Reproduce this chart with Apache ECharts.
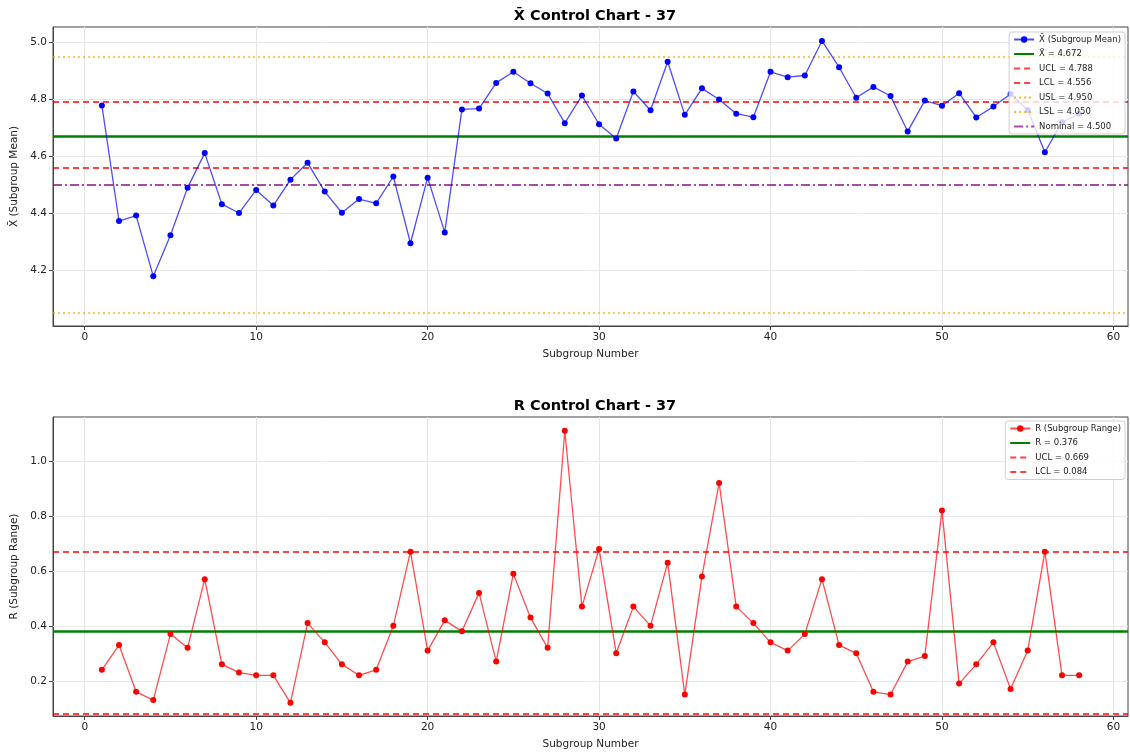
<!DOCTYPE html>
<html>
<head>
<meta charset="utf-8">
<script src="https://cdn.jsdelivr.net/npm/echarts@6/dist/echarts.min.js"></script>
<style>
  html, body { margin: 0; padding: 0; background: #fff; }
  #chart { width: 1130px; height: 753px; }
</style>
</head>
<body>
<div id="chart"></div>
<script>
// subgroup numbers (x axis)
var subgroups = [1, 2, 3, 4, 5, 6, 7, 8, 9, 10, 11, 12, 13, 14, 15, 16, 17, 18, 19, 20,
  21, 22, 23, 24, 25, 26, 27, 28, 29, 30, 31, 32, 33, 34, 35, 36, 37, 38, 39, 40,
  41, 42, 43, 44, 45, 46, 47, 48, 49, 50, 51, 52, 53, 54, 55, 56, 57, 58]

// subgroup means
var xbarValues = [4.778, 4.373, 4.392, 4.179, 4.323, 4.490, 4.611, 4.432, 4.401, 4.482,
  4.427, 4.518, 4.577, 4.476, 4.402, 4.450, 4.435, 4.529, 4.295, 4.525,
  4.333, 4.764, 4.767, 4.857, 4.896, 4.856, 4.820, 4.716, 4.813, 4.712,
  4.662, 4.827, 4.761, 4.931, 4.745, 4.838, 4.799, 4.749, 4.737, 4.896,
  4.877, 4.883, 5.004, 4.912, 4.805, 4.843, 4.811, 4.687, 4.795, 4.777,
  4.821, 4.736, 4.774, 4.818, 4.762, 4.614, 4.719, 4.749]

// subgroup ranges
var rangeValues = [0.24, 0.33, 0.16, 0.13, 0.37, 0.32, 0.57, 0.26, 0.23, 0.22,
  0.22, 0.12, 0.41, 0.34, 0.26, 0.22, 0.24, 0.40, 0.67, 0.31,
  0.42, 0.38, 0.52, 0.27, 0.59, 0.43, 0.32, 1.11, 0.47, 0.68,
  0.30, 0.47, 0.40, 0.63, 0.15, 0.58, 0.92, 0.47, 0.41, 0.34,
  0.31, 0.37, 0.57, 0.33, 0.30, 0.16, 0.15, 0.27, 0.29, 0.82,
  0.19, 0.26, 0.34, 0.17, 0.31, 0.67, 0.22, 0.22]

// control / spec limits
var xbarLimits = { center: 4.672, ucl: 4.788, lcl: 4.556, usl: 4.950, lsl: 4.050, nominal: 4.500 }
var rLimits = { center: 0.376, ucl: 0.669, lcl: 0.084 }

// tick labels
var xTicks = [0, 10, 20, 30, 40, 50, 60]
var xbarTicks = [4.2, 4.4, 4.6, 4.8, 5.0]
var rTicks = [0.2, 0.4, 0.6, 0.8, 1.0]

var FONT = 'DejaVu Sans'
var XBAR = 'X\u0304'

function pairs(ys) {
  return subgroups.map(function (x, i) { return [x, ys[i]] })
}

// horizontal reference line drawn as a markLine-only series so it shows in the legend
function hLine(name, value, color, type, width, opacity, gridIdx) {
  var ls = { color: color, type: type, width: width, opacity: opacity }
  return {
    name: name,
    type: 'line',
    xAxisIndex: gridIdx,
    yAxisIndex: gridIdx,
    data: [],
    symbol: 'none',
    itemStyle: { color: color, opacity: 0 },
    lineStyle: ls,
    markLine: {
      silent: true,
      symbol: 'none',
      label: { show: false },
      lineStyle: ls,
      data: [{ yAxis: value }]
    },
    z: 3
  }
}

function xAxisDef(idx) {
  return {
    type: 'value',
    gridIndex: idx,
    min: -1.85,
    max: 60.85,
    interval: 10,
    name: 'Subgroup Number',
    nameLocation: 'middle',
    nameGap: 23,
    nameTextStyle: { fontFamily: FONT, fontSize: 10.5, color: '#222' },
    axisLine: { show: true, onZero: false, lineStyle: { color: '#444', width: 1 } },
    axisTick: { show: true, customValues: xTicks, length: 4, lineStyle: { color: '#444' } },
    axisLabel: { customValues: xTicks, fontFamily: FONT, fontSize: 10.5, color: '#222', margin: 6 },
    splitLine: { show: true, lineStyle: { color: '#e4e4e4', width: 1 } }
  }
}

function yAxisDef(idx, min, max, ticks, name) {
  return {
    type: 'value',
    gridIndex: idx,
    min: min,
    max: max,
    interval: 0.2,
    name: name,
    nameLocation: 'middle',
    nameGap: 32,
    nameRotate: 90,
    nameTextStyle: { fontFamily: FONT, fontSize: 10.5, color: '#222' },
    axisLine: { show: true, onZero: false, lineStyle: { color: '#444', width: 1 } },
    axisTick: { show: true, customValues: ticks, length: 4, lineStyle: { color: '#444' } },
    axisLabel: {
      customValues: ticks, fontFamily: FONT, fontSize: 10.5, color: '#222', margin: 6,
      formatter: function (v) { return v.toFixed(1) }
    },
    splitLine: { show: false }
  }
}

function legendDef(top, names) {
  return {
    data: names,
    orient: 'vertical',
    right: 5,
    top: top,
    itemWidth: 20,
    itemHeight: 8,
    itemGap: 5.5,
    padding: [3, 4, 3, 4],
    backgroundColor: 'rgba(255,255,255,0.8)',
    borderColor: '#d0d0d0',
    borderWidth: 1,
    borderRadius: 3,
    textStyle: { fontFamily: FONT, fontSize: 8.5, color: '#222' },
    z: 10
  }
}

var chart = echarts.init(document.getElementById('chart'), null, { renderer: 'canvas' })

// horizontal gridlines at tick values (matplotlib style, light)
function gridLines(ticks, gridIdx) {
  return {
    type: 'line',
    xAxisIndex: gridIdx,
    yAxisIndex: gridIdx,
    data: [],
    silent: true,
    markLine: {
      silent: true,
      symbol: 'none',
      label: { show: false },
      lineStyle: { color: '#e8e8e8', type: 'solid', width: 1 },
      data: ticks.map(function (t) { return { yAxis: t } })
    },
    z: 1
  }
}

var xbarName = XBAR + ' (Subgroup Mean)'
var rName = 'R (Subgroup Range)'

chart.setOption({
  animation: false,
  backgroundColor: '#fff',
  title: [
    { text: XBAR + ' Control Chart - 37', left: 590, top: 4, textAlign: 'center',
      textStyle: { fontFamily: FONT, fontSize: 14.5, fontWeight: 'bold', color: '#000' } },
    { text: 'R Control Chart - 37', left: 590, top: 394, textAlign: 'center',
      textStyle: { fontFamily: FONT, fontSize: 14.5, fontWeight: 'bold', color: '#000' } }
  ],
  grid: [
    { left: 53, right: 2, top: 27, height: 299, show: true, borderColor: '#444', borderWidth: 1, backgroundColor: 'transparent' },
    { left: 53, right: 2, top: 417, height: 299, show: true, borderColor: '#444', borderWidth: 1, backgroundColor: 'transparent' }
  ],
  legend: [
    legendDef(32, [
      { name: xbarName },
      { name: XBAR + ' = 4.672' },
      { name: 'UCL = 4.788' },
      { name: 'LCL = 4.556' },
      { name: 'USL = 4.950' },
      { name: 'LSL = 4.050' },
      { name: 'Nominal = 4.500' }
    ]),
    legendDef(421, [
      { name: rName },
      { name: 'R = 0.376' },
      { name: 'UCL = 0.669 ' },
      { name: 'LCL = 0.084 ' }
    ])
  ],
  xAxis: [xAxisDef(0), xAxisDef(1)],
  yAxis: [
    yAxisDef(0, 4.005, 5.053, xbarTicks, XBAR + ' (Subgroup Mean)'),
    yAxisDef(1, 0.072, 1.16, rTicks, 'R (Subgroup Range)')
  ],
  series: [
    gridLines(xbarTicks, 0),
    gridLines(rTicks, 1),
    hLine(XBAR + ' = 4.672', xbarLimits.center, '#008000', 'solid', 2.5, 1, 0),
    hLine('UCL = 4.788', xbarLimits.ucl, '#ff0000', [6, 4], 1.8, 0.75, 0),
    hLine('LCL = 4.556', xbarLimits.lcl, '#ff0000', [6, 4], 1.8, 0.75, 0),
    hLine('USL = 4.950', xbarLimits.usl, '#ffa500', [2, 3], 1.6, 0.85, 0),
    hLine('LSL = 4.050', xbarLimits.lsl, '#ffa500', [2, 3], 1.6, 0.85, 0),
    hLine('Nominal = 4.500', xbarLimits.nominal, '#800080', [9, 3, 2, 3], 2, 0.7, 0),
    {
      name: xbarName,
      type: 'line',
      xAxisIndex: 0,
      yAxisIndex: 0,
      data: pairs(xbarValues),
      symbol: 'circle',
      symbolSize: 6,
      showAllSymbol: true,
      itemStyle: { color: '#0000ff' },
      lineStyle: { color: 'rgba(0,0,255,0.7)', width: 1.3 },
      z: 5
    },
    hLine('R = 0.376', rLimits.center, '#008000', 'solid', 2.5, 1, 1),
    hLine('UCL = 0.669 ', rLimits.ucl, '#ff0000', [6, 4], 1.8, 0.75, 1),
    hLine('LCL = 0.084 ', rLimits.lcl, '#ff0000', [6, 4], 1.8, 0.75, 1),
    {
      name: rName,
      type: 'line',
      xAxisIndex: 1,
      yAxisIndex: 1,
      data: pairs(rangeValues),
      symbol: 'circle',
      symbolSize: 6,
      showAllSymbol: true,
      itemStyle: { color: '#ff0000' },
      lineStyle: { color: 'rgba(255,0,0,0.7)', width: 1.3 },
      z: 5
    }
  ]
})
</script>
</body>
</html>
